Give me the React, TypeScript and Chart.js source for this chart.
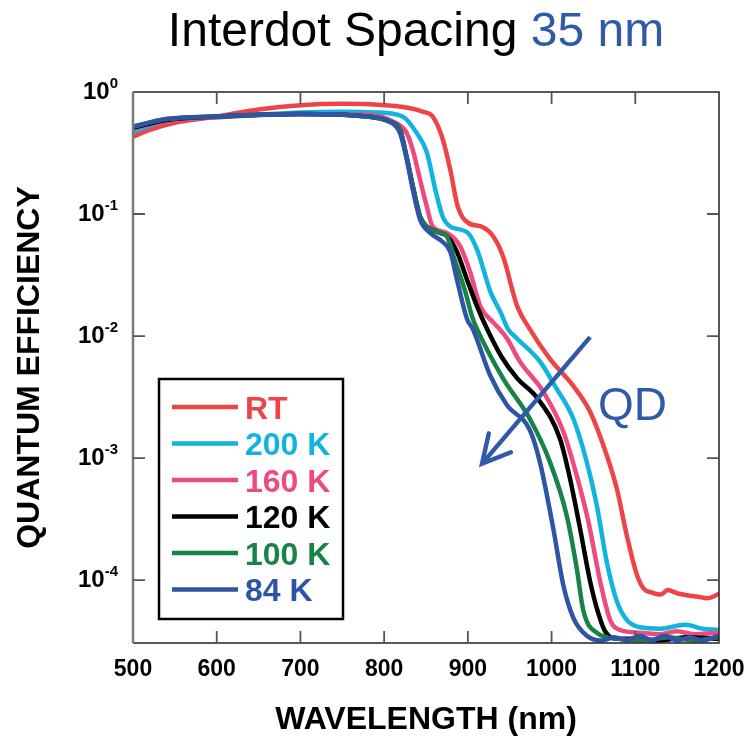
import { useEffect, useRef } from "react";
import { Chart, registerables } from "chart.js";

Chart.register(...registerables);

// ---------- data ----------
const seriesLabels = ["RT", "200 K", "160 K", "120 K", "100 K", "84 K"];
const seriesColors = ["#EE4347", "#13B3E0", "#EE4A7D", "#000000", "#178347", "#2E55A5"];

const rtX = [500, 520, 550, 600, 650, 700, 750, 800, 830, 846, 858, 870, 879, 888, 900, 918, 930, 942, 959, 974, 998, 1026, 1046, 1066, 1078, 1090, 1102, 1110, 1120, 1130, 1139, 1150, 1162, 1175, 1186, 1200];
const rtY = [0.43, 0.49, 0.56, 0.63, 0.72, 0.78, 0.8, 0.78, 0.74, 0.69, 0.63, 0.41, 0.23, 0.115, 0.085, 0.078, 0.066, 0.045, 0.0175, 0.0114, 0.0065, 0.0039, 0.0024, 0.00105, 0.00056, 0.00023, 0.00011, 0.000085, 0.000079, 0.000076, 0.000083, 0.000078, 0.000075, 0.000073, 0.000071, 0.000077];

const k200X = [500, 540, 600, 650, 700, 750, 790, 822, 839, 851, 861, 870, 879, 900, 911, 927, 939, 948, 959, 986, 1006, 1026, 1042, 1054, 1066, 1078, 1090, 1106, 1130, 1160, 1180, 1200];
const k200Y = [0.47, 0.58, 0.62, 0.65, 0.68, 0.69, 0.68, 0.63, 0.46, 0.32, 0.16, 0.095, 0.079, 0.07, 0.051, 0.023, 0.0157, 0.0114, 0.0095, 0.0062, 0.0037, 0.0021, 0.00093, 0.00041, 0.00014, 0.000067, 0.000047, 0.000041, 0.00004, 0.000043, 0.00004, 0.000039];

const k160X = [500, 540, 600, 700, 780, 811, 827, 835, 843, 851, 858, 875, 891, 903, 915, 930, 938, 947, 962, 990, 1014, 1030, 1044, 1058, 1070, 1082, 1106, 1130, 1150, 1170, 1200];
const k160Y = [0.5, 0.58, 0.62, 0.66, 0.65, 0.57, 0.46, 0.32, 0.19, 0.115, 0.079, 0.07, 0.054, 0.033, 0.0175, 0.013, 0.0114, 0.0095, 0.0062, 0.0035, 0.00165, 0.00072, 0.0003, 0.000098, 0.000047, 0.000039, 0.000037, 0.000036, 0.000038, 0.000036, 0.000037];

const k120X = [500, 540, 600, 700, 780, 807, 819, 827, 835, 843, 851, 867, 875, 887, 899, 911, 923, 940, 959, 983, 1010, 1022, 1034, 1046, 1054, 1064, 1080, 1100, 1130, 1160, 1200];
const k120Y = [0.51, 0.59, 0.63, 0.66, 0.63, 0.57, 0.49, 0.29, 0.16, 0.095, 0.079, 0.07, 0.066, 0.049, 0.029, 0.0175, 0.0114, 0.0068, 0.0045, 0.0031, 0.00144, 0.00068, 0.000265, 0.000098, 0.000059, 0.000038, 0.000033, 0.000033, 0.000032, 0.000034, 0.000033];

const k100X = [500, 540, 600, 700, 780, 807, 819, 827, 835, 843, 851, 867, 875, 883, 897, 905, 911, 942, 974, 998, 1018, 1030, 1038, 1054, 1080, 1110, 1140, 1170, 1200];
const k100Y = [0.52, 0.6, 0.63, 0.66, 0.63, 0.57, 0.49, 0.29, 0.16, 0.095, 0.079, 0.07, 0.066, 0.045, 0.023, 0.0145, 0.0114, 0.0045, 0.0021, 0.00093, 0.00034, 0.000126, 0.000056, 0.000037, 0.000033, 0.000032, 0.000034, 0.000032, 0.000034];

const k84X = [500, 540, 600, 700, 780, 807, 819, 827, 835, 843, 855, 870, 879, 887, 899, 906, 927, 947, 974, 986, 1002, 1014, 1026, 1042, 1060, 1075, 1090, 1105, 1120, 1135, 1150, 1165, 1180, 1200];
const k84Y = [0.52, 0.6, 0.63, 0.66, 0.63, 0.57, 0.46, 0.28, 0.15, 0.09, 0.07, 0.059, 0.049, 0.029, 0.0138, 0.0114, 0.0047, 0.0027, 0.0017, 0.00093, 0.000265, 0.000091, 0.000049, 0.000035, 0.000032, 0.000034, 0.000032, 0.000035, 0.000032, 0.000035, 0.000032, 0.000034, 0.000032, 0.000035];

const seriesX = [rtX, k200X, k160X, k120X, k100X, k84X];
const seriesY = [rtY, k200Y, k160Y, k120Y, k100Y, k84Y];

const xTickValues = [500, 600, 700, 800, 900, 1000, 1100, 1200];
const yDecades = [1, 0.1, 0.01, 0.001, 0.0001];
const yExponents = ["0", "-1", "-2", "-3", "-4"];

const titleMain = "Interdot Spacing ";
const titleAccent = "35 nm";
const xTitle = "WAVELENGTH (nm)";
const yTitle = "QUANTUM EFFICIENCY";
const arrowLabel = "QD";
// arrow from (nm, QE) to (nm, QE)
const arrowFrom = [1046, 0.0098];
const arrowTo = [917, 0.0009];

const FONT = "'Liberation Sans', Arial, Helvetica, sans-serif";
const BLUE = "#2E5AA8";

const decorPlugin = {
  id: "decor",
  afterDatasetsDraw(chart: any) {
    const { ctx, chartArea } = chart;
    const { left, right, top, bottom } = chartArea;
    const xs = chart.scales.x;
    const ys = chart.scales.y;
    ctx.save();

    // frame
    ctx.lineCap = "butt";
    ctx.strokeStyle = "#222";
    ctx.lineWidth = 1.5;
    ctx.beginPath();
    ctx.moveTo(left, top);
    ctx.lineTo(right, top);
    ctx.lineTo(right, bottom);
    ctx.lineTo(left, bottom);
    ctx.stroke();
    ctx.strokeStyle = "#7a7a7a";
    ctx.lineWidth = 2.5;
    ctx.beginPath();
    ctx.moveTo(left, top);
    ctx.lineTo(left, bottom);
    ctx.stroke();

    // inward ticks
    const TL = 12;
    ctx.lineWidth = 1.8;
    ctx.strokeStyle = "#555";
    xTickValues.forEach((v) => {
      const px = xs.getPixelForValue(v);
      if (px <= left + 1 || px >= right - 1) return;
      ctx.beginPath();
      ctx.moveTo(px, bottom);
      ctx.lineTo(px, bottom - TL);
      ctx.moveTo(px, top);
      ctx.lineTo(px, top + TL);
      ctx.stroke();
    });
    yDecades.forEach((v) => {
      const py = ys.getPixelForValue(v);
      if (py <= top + 1 || py >= bottom - 1) return;
      ctx.beginPath();
      ctx.moveTo(left, py);
      ctx.lineTo(left + TL, py);
      ctx.moveTo(right, py);
      ctx.lineTo(right - TL, py);
      ctx.stroke();
    });

    // y tick labels 10^n
    ctx.fillStyle = "#000";
    yDecades.forEach((v, i) => {
      const py = ys.getPixelForValue(v);
      const labelRight = left - 15;
      ctx.font = `bold 15px ${FONT}`;
      const ew = ctx.measureText(yExponents[i]).width;
      ctx.textAlign = "left";
      ctx.textBaseline = "alphabetic";
      ctx.fillText(yExponents[i], labelRight - ew, py - 4);
      ctx.font = `bold 24px ${FONT}`;
      ctx.textAlign = "right";
      ctx.fillText("10", labelRight - ew, py + 7);
    });

    // legend
    const lx = 159, ly = 379, lw = 184, lh = 240;
    ctx.fillStyle = "#fff";
    ctx.fillRect(lx, ly, lw, lh);
    ctx.strokeStyle = "#000";
    ctx.lineWidth = 2.5;
    ctx.strokeRect(lx, ly, lw, lh);
    chart.data.datasets.forEach((ds: any, i: number) => {
      const cy = 407 + i * 36.5;
      ctx.strokeStyle = ds.borderColor;
      ctx.lineWidth = 4.5;
      ctx.beginPath();
      ctx.moveTo(172, cy);
      ctx.lineTo(238, cy);
      ctx.stroke();
      ctx.fillStyle = ds.borderColor;
      ctx.font = `bold 32px ${FONT}`;
      ctx.textAlign = "left";
      ctx.textBaseline = "alphabetic";
      ctx.fillText(ds.label, 245, cy + 11.5);
    });

    // arrow
    const x0 = xs.getPixelForValue(arrowFrom[0]);
    const y0 = ys.getPixelForValue(arrowFrom[1]);
    const x1 = xs.getPixelForValue(arrowTo[0]);
    const y1 = ys.getPixelForValue(arrowTo[1]);
    ctx.strokeStyle = BLUE;
    ctx.lineWidth = 4.5;
    ctx.lineCap = "butt";
    ctx.beginPath();
    ctx.moveTo(x0, y0);
    ctx.lineTo(x1, y1);
    ctx.stroke();
    const back = Math.atan2(y0 - y1, x0 - x1);
    const bl = 31;
    const spread = (28 * Math.PI) / 180;
    ctx.lineCap = "round";
    ctx.beginPath();
    ctx.moveTo(x1 + bl * Math.cos(back - spread), y1 + bl * Math.sin(back - spread));
    ctx.lineTo(x1, y1);
    ctx.lineTo(x1 + bl * Math.cos(back + spread), y1 + bl * Math.sin(back + spread));
    ctx.stroke();
    ctx.fillStyle = BLUE;
    ctx.font = `46px ${FONT}`;
    ctx.textAlign = "left";
    ctx.textBaseline = "alphabetic";
    ctx.fillText(arrowLabel, 598, 420);

    // title
    ctx.font = `48px ${FONT}`;
    const w1 = ctx.measureText(titleMain).width;
    const w2 = ctx.measureText(titleAccent).width;
    const tx = 416 - (w1 + w2) / 2;
    ctx.textAlign = "left";
    ctx.fillStyle = "#000";
    ctx.fillText(titleMain, tx, 46);
    ctx.fillStyle = BLUE;
    ctx.fillText(titleAccent, tx + w1, 46);

    ctx.restore();
  },
};

export default function App() {
  const ref = useRef<HTMLCanvasElement | null>(null);

  useEffect(() => {
    document.body.style.margin = "0";
    const canvas = ref.current;
    if (!canvas) return;
    const datasets = seriesLabels.map((label, i) => ({
      label,
      data: seriesX[i].map((x, j) => ({ x, y: seriesY[i][j] })),
      borderColor: seriesColors[i],
      backgroundColor: seriesColors[i],
      borderWidth: 4.5,
      pointRadius: 0,
      fill: false,
      cubicInterpolationMode: "monotone" as const,
      order: seriesLabels.length - i,
    }));
    const chart = new Chart(canvas, {
      type: "line",
      data: { datasets },
      options: {
        responsive: false,
        animation: false,
        layout: { padding: { top: 92, right: 27, left: 0, bottom: 0 } },
        plugins: {
          legend: { display: false },
          tooltip: { enabled: false },
          title: { display: false },
        },
        scales: {
          x: {
            type: "linear",
            min: 500,
            max: 1200,
            grid: { display: false, drawTicks: false },
            border: { display: false },
            ticks: {
              stepSize: 100,
              padding: 13,
              color: "#000",
              font: { family: FONT, size: 23, weight: "bold" },
              maxRotation: 0,
              callback: (v: any) => String(v),
            },
            afterBuildTicks: (s: any) => {
              s.ticks = xTickValues.map((v) => ({ value: v }));
            },
            title: {
              display: true,
              text: xTitle,
              color: "#000",
              font: { family: FONT, size: 32, weight: "bold" },
              padding: { top: 0, bottom: 0 },
            },
            afterFit: (s: any) => {
              s.height = 96;
              s.paddingLeft = 0;
              s.paddingRight = 0;
            },
          },
          y: {
            type: "logarithmic",
            min: 3.05e-5,
            max: 1,
            grid: { display: false, drawTicks: false },
            border: { display: false },
            ticks: { display: false },
            afterBuildTicks: (s: any) => {
              s.ticks = yDecades.map((v) => ({ value: v }));
            },
            title: {
              display: true,
              text: yTitle,
              color: "#000",
              font: { family: FONT, size: 32, weight: "bold" },
              padding: { top: 11, bottom: 0 },
            },
            afterFit: (s: any) => {
              s.width = 133;
              s.paddingTop = 0;
              s.paddingBottom = 0;
            },
          },
        },
      } as any,
      plugins: [decorPlugin],
    });
    return () => chart.destroy();
  }, []);

  return (
    <canvas
      ref={ref}
      width={746}
      height={739}
      style={{ display: "block", width: 746, height: 739 }}
    />
  );
}
